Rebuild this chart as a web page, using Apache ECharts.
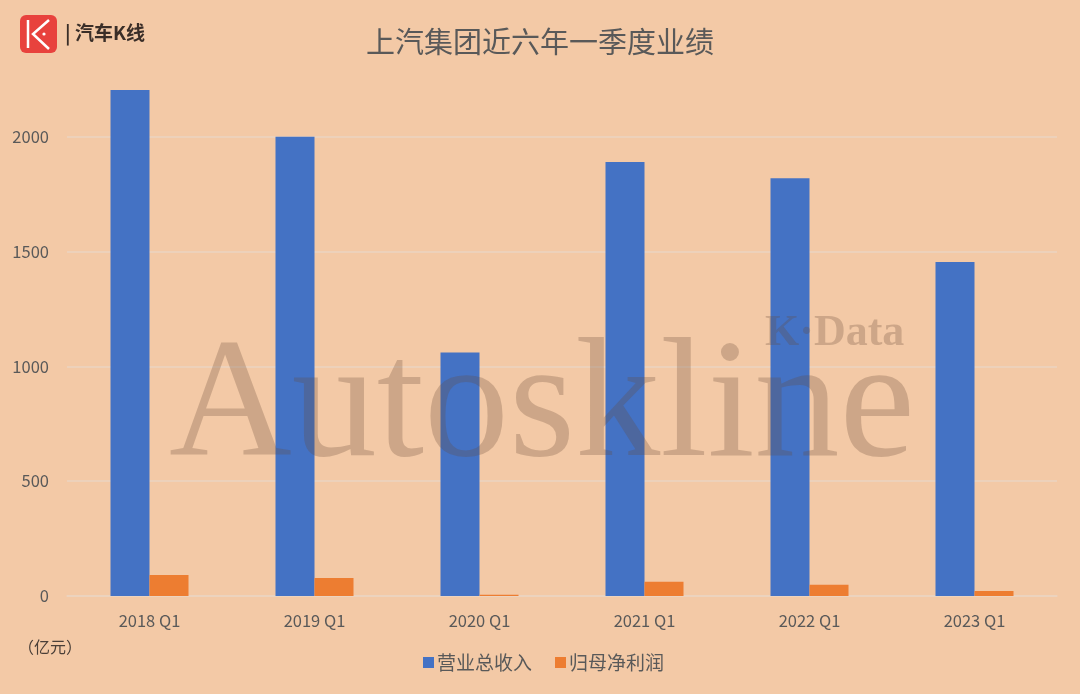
<!DOCTYPE html>
<html><head><meta charset="utf-8">
<script src="https://cdn.jsdelivr.net/npm/echarts@6/dist/echarts.min.js"></script>
<style>html,body{margin:0;padding:0;background:#F3C9A6;}#c{width:1080px;height:694px;}</style>
</head><body><div id="c"></div>
<script>
const categories = ['2018 Q1','2019 Q1','2020 Q1','2021 Q1','2022 Q1','2023 Q1'];
const revenue = [2204, 2000, 1061, 1890, 1820, 1455];
const netProfit = [91, 78, 5, 62, 49, 22];
const seriesNames = ['营业总收入','归母净利润'];
const yTicks = [0, 500, 1000, 1500, 2000];

const chart = echarts.init(document.getElementById('c'), null, {renderer:'canvas'});
const txt = '#595959';
chart.setOption({
  backgroundColor: '#F3C9A6',
  animation: false,
  title: {
    text: '上汽集团近六年一季度业绩',
    left: 'center', top: 22,
    textStyle: {fontSize: 29, fontWeight: 'normal', color: txt, fontFamily: 'Noto Sans CJK SC'}
  },
  legend: {
    data: seriesNames, bottom: 17, left: 418,
    itemWidth: 11, itemHeight: 11, itemGap: 23, icon: 'rect',
    textStyle: {fontSize: 19, color: txt, fontFamily: 'Noto Sans CJK SC', padding: [0,0,0,-2]}
  },
  grid: {left: 67, right: 23, top: 22, bottom: 98},
  xAxis: {
    type: 'category', data: categories,
    axisLine: {show: true, lineStyle: {color: '#EBD3C0', width: 1.5}},
    axisTick: {show: false},
    axisLabel: {fontSize: 16.5, color: txt, margin: 16, fontFamily: 'Noto Sans CJK SC'}
  },
  yAxis: {
    type: 'value', min: 0, max: 2500, interval: 500,
    axisLine: {show: false}, axisTick: {show: false},
    axisLabel: {fontSize: 16.5, color: txt, margin: 18, showMaxLabel: false, fontFamily: 'Noto Sans CJK SC',
      formatter: v => yTicks.includes(v) ? String(v) : ''},
    splitLine: {show: true, showMaxLine: false, lineStyle: {color: '#EBD3C0', width: 1.5}}
  },
  series: [
    {name: seriesNames[0], type: 'bar', data: revenue, barWidth: 39, barGap: '0%',
     itemStyle: {color: '#4472C4'}},
    {name: seriesNames[1], type: 'bar', data: netProfit, barWidth: 39,
     itemStyle: {color: '#ED7D31'}}
  ],
  graphic: [
    {type: 'text', left: 169, top: 325, z: 100, silent: true,
     style: {text: 'Autoskline', font: '170px "Liberation Serif", "DejaVu Serif", serif',
       fill: 'rgba(105,75,55,0.27)'}},
    {type: 'text', left: 765, top: 312, z: 100, silent: true,
     style: {text: 'K·Data', font: 'bold 44px "Liberation Serif", "DejaVu Serif", serif',
       fill: 'rgba(105,75,55,0.27)'}},
    {type: 'rect', shape: {x: 20, y: 15, width: 37, height: 38, r: 6}, style: {fill: '#E8423D'}},
    {type: 'line', shape: {x1: 28, y1: 20, x2: 28, y2: 48}, style: {stroke: '#fff', lineWidth: 2.5}},
    {type: 'polyline', shape: {points: [[49, 20], [33, 34], [49, 49]]}, style: {stroke: '#fff', lineWidth: 2.5, fill: null}},
    {type: 'circle', shape: {cx: 44, cy: 34, r: 1.6}, style: {fill: '#fff'}},
    {type: 'text', left: 65, top: 23, style: {text: '| 汽车K线', font: 'bold 19px "Noto Sans CJK SC"', fill: '#3a2e28'}},
    {type: 'text', left: 18, top: 639, style: {text: '（亿元）', font: '16px "Noto Sans CJK SC"', fill: '#4a3f38'}}
  ]
});
</script></body></html>
